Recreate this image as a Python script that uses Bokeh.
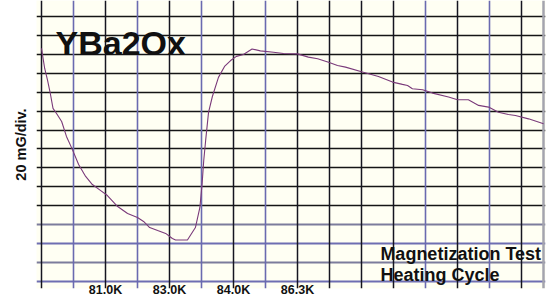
from bokeh.plotting import figure
from bokeh.models import Grid, FixedTicker, Label, Range1d
from bokeh.embed import file_html
from bokeh.resources import INLINE

# ---- data (x in grid divisions, y in 20 mG divisions) ----
temp_div = [0.00, 0.10, 0.19, 0.27, 0.36, 0.47, 0.63, 0.78, 0.95, 1.16, 1.38, 1.59,
            1.84, 2.06, 2.38, 2.69, 3.00, 3.19, 3.38, 3.63, 3.88, 4.09, 4.19, 4.56,
            4.81, 4.95, 5.02, 5.07, 5.13, 5.22, 5.34, 5.53, 5.72, 5.91, 6.09, 6.31,
            6.58, 6.84, 7.25, 7.56, 8.00, 8.34, 8.63, 8.97, 9.25, 9.50, 10.03, 10.53,
            10.97, 11.28, 11.44, 11.59, 11.91, 12.22, 12.72, 13.00, 13.34, 13.66,
            13.97, 14.28, 14.59, 14.81, 15.22, 15.69]
magnet_div = [12.31, 11.25, 10.62, 9.98, 9.14, 8.87, 8.45, 7.66, 7.03, 6.18, 5.55, 5.12,
              4.81, 4.54, 3.96, 3.59, 3.38, 3.17, 2.85, 2.69, 2.54, 2.27, 2.19, 2.19,
              2.85, 3.91, 5.18, 6.39, 7.45, 8.93, 9.77, 10.78, 11.36, 11.67, 11.89, 11.99,
              12.28, 12.18, 12.11, 12.04, 12.02, 11.85, 11.76, 11.58, 11.41, 11.32, 11.06, 10.83,
              10.53, 10.41, 10.35, 10.18, 10.13, 9.95, 9.74, 9.60, 9.60, 9.30,
              9.21, 8.94, 8.82, 8.77, 8.59, 8.33]

tick_positions = [2, 4, 6, 8]
tick_labels = ["81.0K", "83.0K", "84.0K", "86.3K"]

x_black = [0, 2, 4, 6, 8, 9, 10, 11, 13, 15]
x_blue = [1, 3, 5, 7, 12, 14]
x_edge = [15.69]
y_black = [4, 5, 6, 7, 8, 9, 10, 11, 12, 13, 14]
y_blue = [0, 2]
y_grey = [1, 3]

FONT = "Liberation Sans"

p = figure(width=550, height=301, output_backend="svg", toolbar_location=None,
           x_range=Range1d(-0.156, 15.75), y_range=Range1d(-0.37, 14.84),
           min_border_left=36, min_border_right=5, min_border_top=0, min_border_bottom=13)
p.background_fill_color = "#fffff3"
p.border_fill_color = "#ffffff"
p.outline_line_color = None
p.xgrid.grid_line_color = None
p.ygrid.grid_line_color = None

def add_grid(dim, ticks, color, width):
    p.add_layout(Grid(dimension=dim, ticker=FixedTicker(ticks=ticks),
                      grid_line_color=color, grid_line_width=width))

add_grid(1, y_black, "#151515", 1.4)
add_grid(1, y_grey, "#7c7c9c", 2.2)
add_grid(1, y_blue, "#6e6eb2", 2.2)
add_grid(0, x_black, "#151520", 1.5)
add_grid(0, x_blue, "#6a6ab0", 1.6)
add_grid(0, x_edge, "#a4a4ae", 2.5)

# x axis: tick labels only
p.xaxis.ticker = FixedTicker(ticks=tick_positions)
p.xaxis.major_label_overrides = {t: l for t, l in zip(tick_positions, tick_labels)}
p.xaxis.axis_line_color = None
p.xaxis.major_tick_line_color = None
p.xaxis.minor_tick_line_color = None
p.xaxis.major_tick_out = 0
p.xaxis.major_tick_in = 0
p.xaxis.minor_tick_out = 0
p.xaxis.minor_tick_in = 0
p.xaxis.major_label_standoff = -6
p.xaxis.major_label_text_font = FONT
p.xaxis.major_label_text_font_style = "bold"
p.xaxis.major_label_text_font_size = "12.5px"
p.xaxis.major_label_text_color = "#111111"

# y axis: label only
p.yaxis.ticker = FixedTicker(ticks=[])
p.yaxis.major_tick_out = 0
p.yaxis.major_tick_in = 0
p.yaxis.minor_tick_out = 0
p.yaxis.minor_tick_in = 0
p.yaxis.major_label_standoff = 0
p.yaxis.axis_line_color = None
p.yaxis.axis_label = "20 mG/div."
p.yaxis.axis_label_text_font = FONT
p.yaxis.axis_label_text_font_style = "bold"
p.yaxis.axis_label_text_font_size = "14.5px"
p.yaxis.axis_label_text_color = "#111111"
p.yaxis.axis_label_standoff = 8

p.line(temp_div, magnet_div, line_color="#7a3a7a", line_width=1.1)

p.add_layout(Label(x=0.44, y=12.57, text="YBa2Ox", text_font=FONT, text_font_style="bold",
                   text_font_size="34px", text_color="#111111", text_baseline="alphabetic"))
p.add_layout(Label(x=10.59, y=1.43, text="Magnetization Test", text_font=FONT,
                   text_font_style="bold", text_font_size="18px", text_color="#111111",
                   text_baseline="alphabetic"))
p.add_layout(Label(x=10.59, y=0.32, text="Heating Cycle", text_font=FONT,
                   text_font_style="bold", text_font_size="18px", text_color="#111111",
                   text_baseline="alphabetic"))

open("out.html", "w").write(file_html(p, INLINE))
